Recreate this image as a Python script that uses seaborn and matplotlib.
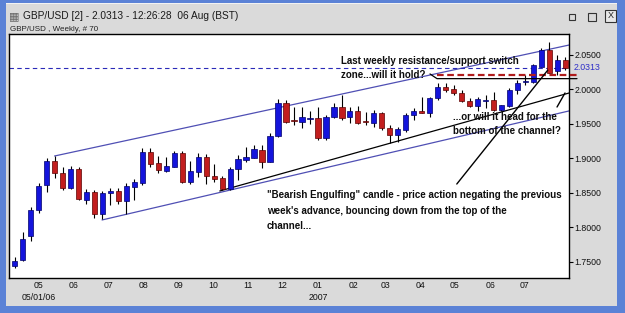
import matplotlib
matplotlib.use("Agg")
import matplotlib.pyplot as plt
import matplotlib.patches as mpatches
import numpy as np
import pandas as pd
import seaborn as sns

# weekly GBP/USD candles, first week 10 Apr 2006
first_week = "2006-04-10"
opens = [1.7442, 1.7529, 1.7877, 1.8254, 1.8616, 1.8964, 1.8794, 1.8568, 1.8848, 1.8403,
         1.8510, 1.8200, 1.8504, 1.8529, 1.8388, 1.8591, 1.8641, 1.9094, 1.8930, 1.8823,
         1.8881, 1.9075, 1.8664, 1.8809, 1.9026, 1.8746, 1.8717, 1.8558, 1.8843, 1.8978,
         1.9014, 1.9123, 1.8954, 1.9322, 1.9800, 1.9558, 1.9529, 1.9575, 1.9591, 1.9293,
         1.9597, 1.9742, 1.9597, 1.9693, 1.9543, 1.9510, 1.9655, 1.9438, 1.9341, 1.9413,
         1.9630, 1.9684, 1.9655, 1.9872, 2.0043, 2.0003, 1.9942, 1.9833, 1.9757, 1.9838,
         1.9843, 1.9696, 1.9761, 1.9993, 2.0109, 2.0113, 2.0333, 2.0565, 2.0275, 2.0420]
highs = [1.7577, 1.7939, 1.8293, 1.8641, 1.9003, 1.9036, 1.8881, 1.8891, 1.8881, 1.8558,
         1.8543, 1.8529, 1.8568, 1.8568, 1.8641, 1.8696, 1.9148, 1.9157, 1.9036, 1.9026,
         1.9109, 1.9109, 1.8964, 1.9084, 1.9065, 1.8920, 1.8746, 1.8881, 1.9051, 1.9171,
         1.9196, 1.9196, 1.9370, 1.9858, 1.9848, 1.9751, 1.9751, 1.9688, 1.9751, 1.9630,
         1.9800, 1.9920, 1.9751, 1.9761, 1.9678, 1.9703, 1.9678, 1.9486, 1.9461, 1.9655,
         1.9732, 1.9896, 1.9896, 2.0090, 2.0090, 2.0065, 1.9993, 1.9872, 1.9896, 1.9920,
         1.9968, 1.9780, 2.0017, 2.0138, 2.0210, 2.0370, 2.0606, 2.0681, 2.0500, 2.0471]
lows = [1.7413, 1.7514, 1.7809, 1.8214, 1.8519, 1.8713, 1.8543, 1.8558, 1.8399, 1.8341,
        1.8133, 1.8119, 1.8326, 1.8341, 1.8196, 1.8399, 1.8616, 1.8872, 1.8786, 1.8809,
        1.8872, 1.8641, 1.8630, 1.8736, 1.8630, 1.8664, 1.8543, 1.8543, 1.8688, 1.8954,
        1.9000, 1.8858, 1.8942, 1.9316, 1.9514, 1.9486, 1.9442, 1.9500, 1.9268, 1.9268,
        1.9583, 1.9558, 1.9510, 1.9500, 1.9486, 1.9461, 1.9413, 1.9220, 1.9240, 1.9388,
        1.9558, 1.9655, 1.9606, 1.9848, 1.9968, 1.9920, 1.9819, 1.9742, 1.9688, 1.9732,
        1.9688, 1.9684, 1.9751, 1.9935, 2.0065, 2.0094, 2.0326, 2.0235, 2.0210, 2.0283]
closes = [1.7519, 1.7829, 1.8254, 1.8601, 1.8964, 1.8794, 1.8568, 1.8852, 1.8413, 1.8514,
          1.8196, 1.8504, 1.8529, 1.8388, 1.8601, 1.8652, 1.9094, 1.8920, 1.8833, 1.8891,
          1.9075, 1.8664, 1.8819, 1.9026, 1.8746, 1.8703, 1.8558, 1.8843, 1.8988, 1.9026,
          1.9138, 1.8954, 1.9326, 1.9809, 1.9533, 1.9543, 1.9601, 1.9587, 1.9293, 1.9606,
          1.9742, 1.9583, 1.9693, 1.9510, 1.9529, 1.9655, 1.9438, 1.9341, 1.9423, 1.9630,
          1.9693, 1.9664, 1.9872, 2.0043, 1.9993, 1.9942, 1.9829, 1.9757, 1.9855, 1.9848,
          1.9696, 1.9768, 1.9997, 2.0094, 2.0116, 2.0348, 2.0565, 2.0246, 2.0420, 2.0313]

last_price = 2.0313
y_ticks = [1.75, 1.80, 1.85, 1.90, 1.95, 2.00, 2.05]
month_starts = pd.date_range("2006-05-01", "2007-07-01", freq="MS")
month_labels = [d.strftime("%m") for d in month_starts]

# trendlines: (week index, price) start and end
upper_channel = ([5.0, 69.5], [1.9036, 2.0645])
lower_channel = ([10.95, 69.5], [1.8109, 1.9690])
black_trend = ([25.7, 69.5], [1.8529, 1.9950])
zone_red = 2.0210
zone_black = 2.0157

W, H = 625, 313
sns.set_theme(style="white")
plt.rcParams["font.family"] = ["Liberation Sans", "DejaVu Sans"]

fig = plt.figure(figsize=(W / 100, H / 100), dpi=100)
fig.patch.set_facecolor("#5b82d6")


def box(x0, y0, x1, y1, z=-5, **kw):
    fig.add_artist(mpatches.Rectangle((x0 / W, 1 - y1 / H), (x1 - x0) / W, (y1 - y0) / H,
                                      transform=fig.transFigure, zorder=z, **kw))


box(6, 3, 617, 306, facecolor="#dadada", edgecolor="none")
box(6, 3, 617, 4, facecolor="#f2f2f2", edgecolor="none")

# window title bar
fig.text(9 / W, 1 - 16 / H, "\u25a6", fontsize=8, color="#666666", va="center",
         family="DejaVu Sans")
fig.text(23 / W, 1 - 16 / H, "GBP/USD [2] - 2.0313 - 12:26:28  06 Aug (BST)",
         fontsize=7.3, color="#1a1a1a", va="center")
box(569, 14, 575, 20, z=2, facecolor="none", edgecolor="#333333", lw=0.8)
box(588, 13, 596, 21, z=2, facecolor="none", edgecolor="#333333", lw=0.8)
box(605, 10, 616, 22, z=2, facecolor="#e8e8e8", edgecolor="#333333", lw=0.8)
fig.text(610.5 / W, 1 - 16 / H, "X", fontsize=6.5, ha="center", va="center", color="#222222")
fig.text(10 / W, 1 - 29.5 / H, "GBP/USD , Weekly, # 70", fontsize=5.8, va="center",
         color="#222222")

ax = fig.add_axes([9 / W, 1 - 278 / H, 560 / W, 244 / H])
ax.set_facecolor("white")
for s in ax.spines.values():
    s.set_color("black")
    s.set_linewidth(1)

df = pd.DataFrame({"open": opens, "high": highs, "low": lows, "close": closes})
df["week"] = pd.date_range(first_week, periods=len(df), freq="7D")
df["x"] = np.arange(len(df))
up = df["close"] >= df["open"]
body_low = np.minimum(df["open"], df["close"])
body_h = np.maximum((df["close"] - df["open"]).abs(), 0.0012)

ax.vlines(df["x"], df["low"], df["high"], color="black", lw=0.8, zorder=2)
ax.bar(df["x"], body_h, bottom=body_low, width=0.66,
       color=np.where(up, "#1414dc", "#c21e1e"),
       edgecolor=np.where(up, "#00006a", "#5a0000"), lw=0.5, zorder=3)

# channel and trend lines
sns.lineplot(x=upper_channel[0], y=upper_channel[1], ax=ax, color="#4f4fb4", lw=0.9, zorder=1)
sns.lineplot(x=lower_channel[0], y=lower_channel[1], ax=ax, color="#4f4fb4", lw=0.9, zorder=1)
sns.lineplot(x=black_trend[0], y=black_trend[1], ax=ax, color="black", lw=0.9, zorder=1)

ax.axhline(last_price, color="#2a2ab8", lw=0.8, ls=(0, (4, 3)), zorder=1)

px2x = lambda px: (px - 14.7) / 7.98
ax.plot([px2x(437), px2x(577)], [zone_red, zone_red], color="#b01c1c", lw=1.6,
        ls=(0, (3, 1.6)), clip_on=False, zorder=4)
ax.plot([px2x(430), px2x(437), px2x(577)], [2.0225, zone_black, zone_black], color="black",
        lw=0.9, clip_on=False, zorder=4)

# arrows to candles / channel
ax.plot([55.4, 66.8], [1.8630, 2.0280], color="black", lw=1.0, zorder=4)
ax.plot([67.96, 68.96], [1.9746, 1.9949], color="black", lw=1.0, zorder=4)

ax.set_xlim(-0.71, 69.46)
ax.set_ylim(1.7268, 2.0804)

ax.yaxis.tick_right()
ax.set_yticks(y_ticks)
ax.set_yticklabels([f"{v:.4f}" for v in y_ticks])
ax.tick_params(axis="y", right=True, length=3, width=0.8, color="black", labelsize=6.3,
               pad=1, labelcolor="#111111")
ax.text(1.0 + 5 / 560, last_price, f"{last_price:.4f}", transform=ax.get_yaxis_transform(),
        color="#2f2fc8", fontsize=6.3, va="center", ha="left", clip_on=False)

start = pd.Timestamp(first_week)
month_pos = [(d - start).days / 7 for d in month_starts]
ax.set_xticks(month_pos)
ax.set_xticklabels(month_labels)
ax.tick_params(axis="x", bottom=False, length=0, labelsize=6.3, pad=2.0,
               labelcolor="#111111")
xt = ax.get_xaxis_transform()
ax.text(month_pos[0], -0.08, "05/01/06", transform=xt, fontsize=6.3, ha="center",
        va="center", color="#111111")
ax.text(month_pos[8], -0.08, "2007", transform=xt, fontsize=6.3, ha="center",
        va="center", color="#111111")
ax.set_xlabel("")
ax.set_ylabel("")


def note(px, py, s):
    ax.text((px - 9) / 560, (278 - py) / 244, s, transform=ax.transAxes, fontsize=7.0,
            fontweight="bold", color="#0d0d0d", va="center", ha="left", zorder=5)


note(341, 60.5, "Last weekly resistance/support switch")
note(341, 75.5, "zone...will it hold?")
note(453, 116.7, "...or will it head for the")
note(453, 130.5, "bottom of the channel?")
note(267, 194.5, "\"Bearish Engulfing\" candle - price action negating the previous")
note(267, 210.5, "week's advance, bouncing down from the top of the")
note(267, 226, "channel...")

fig.savefig("out.png", dpi=100)
